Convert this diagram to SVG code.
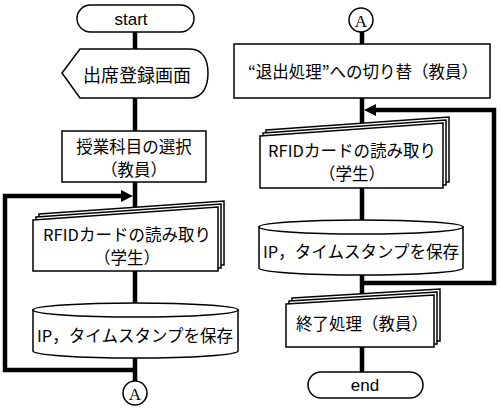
<svg xmlns="http://www.w3.org/2000/svg" width="500" height="415" viewBox="0 0 500 415">
<defs>
<style>
.s{fill:#fff;stroke:#000;stroke-width:1.5}
.c{fill:none;stroke:#000;stroke-width:4.5}
.t{font-family:"Noto Sans CJK JP","Noto Sans",sans-serif;font-size:16.5px;fill:#000;text-anchor:middle;dominant-baseline:central}
.e{font-family:"Liberation Sans",Arial,sans-serif;font-size:17px;fill:#000;text-anchor:middle;dominant-baseline:central}
.a{font-family:"Liberation Serif","Times New Roman",serif;font-size:17px;fill:#000;text-anchor:middle;dominant-baseline:central}
</style>
</defs>
<rect width="500" height="415" fill="#fff"/>
<g id="connectors">
<line class="c" x1="135" y1="32" x2="135" y2="50"/>
<line class="c" x1="135" y1="97" x2="135" y2="132"/>
<line class="c" x1="135" y1="181" x2="135" y2="212"/>
<line class="c" x1="135" y1="270" x2="135" y2="305"/>
<line class="c" x1="135" y1="356" x2="135" y2="382"/>
<polyline class="c" points="135,370 5,370 5,196 122,196"/>
<polygon points="133,196 121,190 121,202" fill="#000"/>
<line class="c" x1="362" y1="32" x2="362" y2="45"/>
<line class="c" x1="362" y1="97" x2="362" y2="130"/>
<line class="c" x1="362" y1="187" x2="362" y2="222"/>
<line class="c" x1="362" y1="274" x2="362" y2="300"/>
<line class="c" x1="362" y1="346" x2="362" y2="373"/>
<polyline class="c" points="362,283 494,283 494,110 376,110"/>
<polygon points="364,110 376,104 376,116" fill="#000"/>
</g>
<g id="start">
<rect class="s" x="77" y="5" width="117" height="27" rx="13.5"/>
<text class="e" x="131" y="19">start</text>
</g>
<g id="display">
<path class="s" d="M62,73 L80,49 L190,49 C203,49 208,60 208,73 C208,86 203,98 190,98 L80,98 Z"/>
<text class="t" x="137" y="74" style="font-size:18px">出席登録画面</text>
</g>
<g id="select-subject">
<rect class="s" x="62" y="131" width="144" height="51"/>
<text class="t" x="134" y="146">授業科目の選択</text>
<text class="t" x="134" y="169">（教員）</text>
</g>
<g id="rfid-left">
<polygon class="s" points="39,214 224,201 224,265 39,265"/>
<polygon class="s" points="36,217 221,204 221,268 36,268"/>
<polygon class="s" points="33,220 218,207 218,271 33,271"/>
<text class="t" x="127" y="234">RFIDカードの読み取り</text>
<text class="t" x="127" y="257">（学生）</text>
</g>
<g id="save-left">
<path class="s" d="M33,310 L33,351 A102.5,7 0 0 0 238,351 L238,310 Z"/>
<ellipse class="s" cx="135.5" cy="310" rx="102.5" ry="7"/>
<text class="t" x="135" y="335">IP，タイムスタンプを保存</text>
</g>
<g id="connector-a-out">
<circle class="s" cx="135" cy="393" r="12"/>
<text class="a" x="135" y="394">A</text>
</g>
<g id="connector-a-in">
<circle class="s" cx="361" cy="20" r="12"/>
<text class="a" x="361" y="21">A</text>
</g>
<g id="switch-exit">
<rect class="s" x="234" y="44" width="256" height="54"/>
<text class="t" x="363" y="71">“退出処理”への切り替（教員）</text>
</g>
<g id="rfid-right">
<polygon class="s" points="266,130 449,117 449,182 266,182"/>
<polygon class="s" points="263,133 446,120 446,185 263,185"/>
<polygon class="s" points="260,136 443,123 443,188 260,188"/>
<text class="t" x="352" y="150">RFIDカードの読み取り</text>
<text class="t" x="352" y="173">（学生）</text>
</g>
<g id="save-right">
<path class="s" d="M259,227 L259,268 A102,7 0 0 0 463,268 L463,227 Z"/>
<ellipse class="s" cx="361" cy="227" rx="102" ry="7"/>
<text class="t" x="361" y="251">IP，タイムスタンプを保存</text>
</g>
<g id="finish">
<polygon class="s" points="292,298 440,289 440,341 292,341"/>
<polygon class="s" points="289,301 437,292 437,344 289,344"/>
<polygon class="s" points="286,304 434,295 434,347 286,347"/>
<text class="t" x="362" y="323">終了処理（教員）</text>
</g>
<g id="end">
<rect class="s" x="308" y="372" width="115" height="26" rx="13"/>
<text class="e" x="365" y="385">end</text>
</g>
</svg>
